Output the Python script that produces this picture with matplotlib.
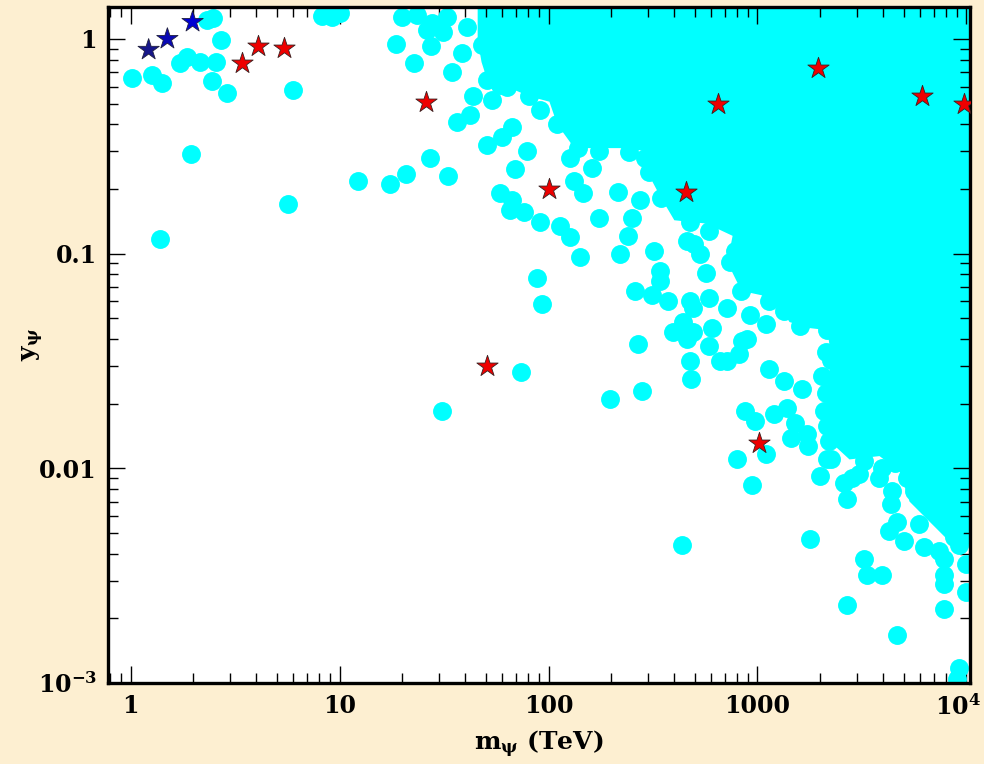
import numpy as np
import matplotlib
matplotlib.use("Agg")
import matplotlib.pyplot as plt
import matplotlib.transforms as mtransforms

plt.rcParams["font.family"] = "DejaVu Serif"
plt.rcParams["font.weight"] = "bold"
plt.rcParams["mathtext.fontset"] = "dejavuserif"
plt.rcParams["mathtext.default"] = "bf"

# scan points (m_psi in TeV, y_psi)
scan_m = [
    1.02, 1.27, 1.42, 1.72, 1.87, 2.14, 2.55, 2.44, 2.88, 2.72, 2.47, 2.31, 1.94, 5.64, 1.39, 6.0,
    8.2, 9.2, 10.0,
    20.0, 23.4, 27.8, 32.5, 26.1, 31.1, 18.7, 27.5, 22.8, 38.7, 34.7, 40.6, 43.3, 53.9, 36.3, 41.9,
    50.5, 27.0, 20.7, 17.4, 12.3, 32.9, 67.2, 60.2, 78.5, 68.8, 58.3, 67.2, 65.1, 76.7, 90.6, 113,
    126, 141, 87.7, 92.6, 133, 146, 162, 126, 175, 214, 239, 219, 252, 321, 340, 258, 314, 371, 392,
    267, 489, 499, 570, 589, 489, 608, 74.2, 30.8, 196, 279, 473, 483, 458, 589, 711, 847, 870, 794,
    433, 946, 458, 528, 473, 340, 438, 658, 820, 916, 1104, 711, 887, 1141, 1345, 1641, 978, 1205,
    1378, 1505, 1717, 1736, 1454, 1104, 1981, 2260, 2606, 2667, 3076, 3962, 4422, 4375, 4627, 5958,
    7190, 5167, 9259, 7850, 7850, 7850, 10000, 10000, 7850, 4627, 2667, 3248, 3325, 3962, 1774, 9259,
    8963, 2846, 3835, 4281, 5048, 6292, 7427, 8757, 2140,
    50.5, 63, 81, 110, 138, 304, 347, 473, 735, 838, 1345, 2160, 2260, 2120, 2210,
    2116, 2025, 2090, 2160, 3248, 4527, 5636, 8757, 777, 896, 1141, 1589, 589, 273, 175, 90.6, 58.3, 47.8,
    244, 288,
]
scan_y = [
    0.66, 0.68, 0.62, 0.77, 0.82, 0.78, 0.78, 0.64, 0.56, 0.99, 1.25, 1.23, 0.29, 0.171, 0.117, 0.58,
    1.28, 1.27, 1.32,
    1.27, 1.29, 1.19, 1.27, 1.10, 1.08, 0.95, 0.93, 0.77, 0.86, 0.70, 1.14, 0.54, 0.52, 0.41, 0.44,
    0.32, 0.28, 0.236, 0.212, 0.219, 0.231, 0.39, 0.35, 0.30, 0.247, 0.191, 0.177, 0.159, 0.156, 0.140, 0.135,
    0.119, 0.096, 0.077, 0.058, 0.219, 0.191, 0.25, 0.28, 0.147, 0.193, 0.121, 0.100, 0.147, 0.103, 0.083, 0.067, 0.064, 0.060, 0.043,
    0.038, 0.056, 0.111, 0.081, 0.062, 0.043, 0.045, 0.028, 0.0185, 0.021, 0.023, 0.0316, 0.026, 0.040, 0.037, 0.0316, 0.039, 0.0185, 0.011,
    0.0044, 0.0084, 0.115, 0.100, 0.060, 0.0748, 0.048, 0.0316, 0.034, 0.052, 0.047, 0.056, 0.040, 0.029, 0.0255, 0.0234, 0.0166, 0.018,
    0.019, 0.0162, 0.0144, 0.0127, 0.0138, 0.0116, 0.0092, 0.011, 0.0085, 0.0072, 0.0094, 0.0100, 0.0078, 0.0068, 0.00565, 0.0055,
    0.0063, 0.0090, 0.0044, 0.0038, 0.0032, 0.0029, 0.0036, 0.00266, 0.0022, 0.00168, 0.0023, 0.0038, 0.0032, 0.0032, 0.0047, 0.00117,
    0.00104, 0.0090, 0.0090, 0.0051, 0.0046, 0.0043, 0.0041, 0.0051, 0.011,
    0.643, 0.60, 0.54, 0.40, 0.31, 0.24, 0.181, 0.14, 0.091, 0.067, 0.054, 0.044, 0.032, 0.0224, 0.0134,
    0.035, 0.027, 0.0185, 0.0157, 0.0108, 0.0106, 0.0078, 0.0048, 0.103, 0.075, 0.060, 0.046, 0.128, 0.177, 0.30, 0.466, 0.61, 0.94,
    0.297, 0.278,
]

# outline of the densely populated corner
dense_m = [45.8, 45.8, 47.8, 51, 63, 81, 101, 110, 133, 219, 304, 297, 340, 400, 570, 760, 718, 838,
           1045, 1300, 1423, 1774, 2160, 2260, 2120, 2210, 2755, 3835, 4780, 5340, 6650, 8290, 12000, 12000]
dense_y = [1.5, 0.99, 0.78, 0.64, 0.60, 0.54, 0.51, 0.40, 0.31, 0.31, 0.30, 0.24, 0.187, 0.143, 0.138, 0.121,
           0.091, 0.067, 0.064, 0.055, 0.048, 0.045, 0.044, 0.032, 0.0224, 0.0134, 0.011, 0.0114, 0.0097, 0.0070,
           0.00565, 0.00456, 0.0043, 1.5]

# benchmark points
red_m = [3.43, 4.05, 5.4, 26, 100, 50.5, 457, 650, 1940, 6150, 9680, 1020]
red_y = [0.77, 0.93, 0.91, 0.51, 0.20, 0.030, 0.193, 0.50, 0.73, 0.54, 0.50, 0.0131]
blue_m = [1.22, 1.50, 1.98]
blue_y = [0.89, 1.0, 1.2]
blue_colors = ["#16168a", "#0a0ab4", "#0000d2"]

fig = plt.figure(figsize=(9.84, 7.64), dpi=100, facecolor="#fdefd1")
ax = fig.add_axes([0.1098, 0.106, 0.876, 0.885])
ax.set_facecolor("white")
ax.set_xscale("log")
ax.set_yscale("log")

ax.fill(dense_m, dense_y, color="cyan", lw=0, zorder=1)
ax.scatter(scan_m, scan_y, s=185, c="cyan", marker="o", linewidths=0, zorder=2)
ax.scatter(red_m, red_y, s=260, c="#ee0000", marker="*", edgecolors="#3a2020", linewidths=0.6, zorder=3)
ax.scatter(blue_m, blue_y, s=260, c=blue_colors, marker="*", edgecolors="#202040", linewidths=0.6, zorder=3)

ax.set_xlim(0.78, 10400)
ax.set_ylim(1e-3, 1.41)

ax.set_xticks([1, 10, 100, 1000, 1e4])
ax.set_xticklabels(["1", "10", "100", "1000", r"$10^4$"])
ax.set_yticks([1e-3, 1e-2, 0.1, 1])
ax.set_yticklabels([r"$10^{-3}$", "0.01", "0.1", "1"])

ax.tick_params(which="both", direction="in", top=True, right=True, labelsize=17, width=1, pad=8)
ax.tick_params(which="major", length=12)
ax.tick_params(which="minor", length=7)
for spine in ax.spines.values():
    spine.set_linewidth(2.4)

# nudge the last x label so it stays inside the figure
last = ax.get_xticklabels()[-1]
last.set_transform(last.get_transform() + mtransforms.ScaledTranslation(-0.09, 0, fig.dpi_scale_trans))

ax.set_xlabel(r"$\mathbf{m}_{\psi}$ (TeV)", fontsize=18, fontweight="bold", labelpad=6)
ax.set_ylabel(r"$\mathbf{y}_{\psi}$", fontsize=18, fontweight="bold")
ax.yaxis.set_label_coords(-0.072, 0.5)

fig.savefig("out.png", dpi=100, facecolor=fig.get_facecolor())
